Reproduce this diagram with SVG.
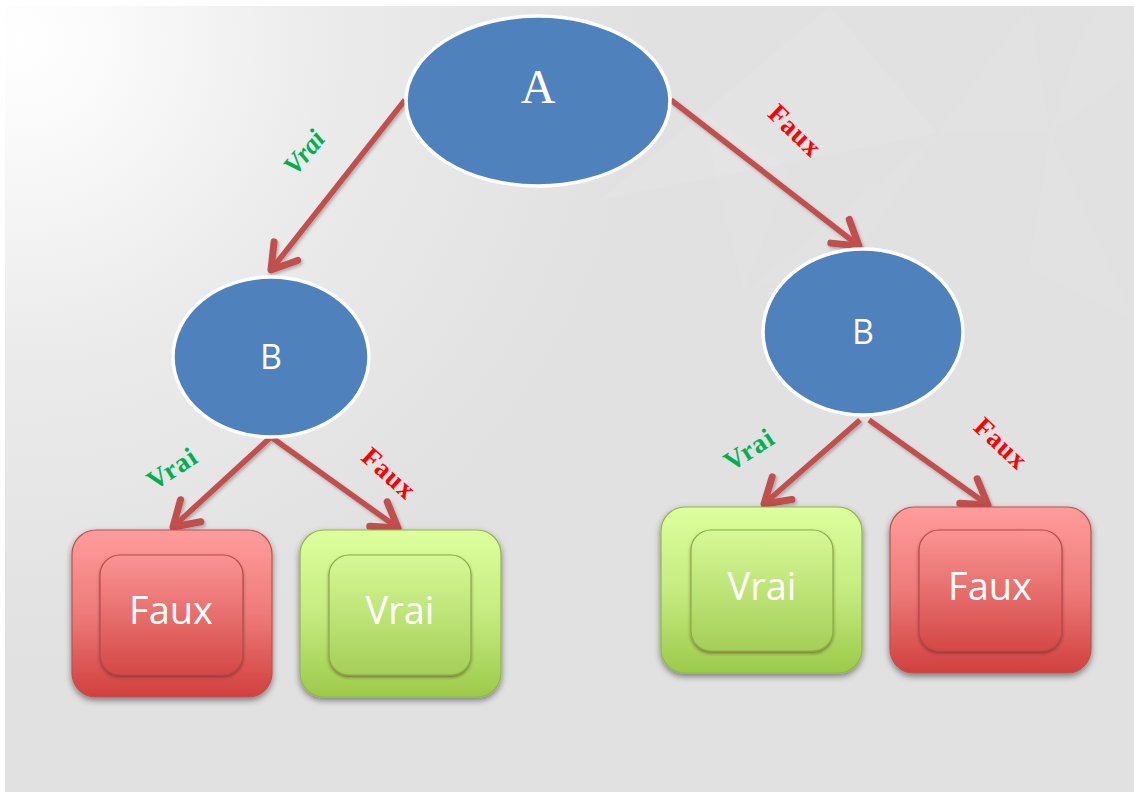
<svg xmlns="http://www.w3.org/2000/svg" width="1134" height="792" viewBox="0 0 1134 792">
  <defs>
    <radialGradient id="bgGlow" cx="20" cy="40" r="620" gradientUnits="userSpaceOnUse">
      <stop offset="0" stop-color="#FFFFFF"/>
      <stop offset="0.15" stop-color="#FAFAFA"/>
      <stop offset="0.5" stop-color="#EBEBEB"/>
      <stop offset="1" stop-color="#E1E1E1"/>
    </radialGradient>
    <linearGradient id="redOuter" x1="0" y1="0" x2="0" y2="1">
      <stop offset="0" stop-color="#FF9D9C"/>
      <stop offset="0.5" stop-color="#EE7B79"/>
      <stop offset="1" stop-color="#D0403E"/>
    </linearGradient>
    <linearGradient id="redInner" x1="0" y1="0" x2="0" y2="1">
      <stop offset="0" stop-color="#FA9594"/>
      <stop offset="1" stop-color="#D34846"/>
    </linearGradient>
    <linearGradient id="greenOuter" x1="0" y1="0" x2="0" y2="1">
      <stop offset="0" stop-color="#DEFF9E"/>
      <stop offset="0.5" stop-color="#C5EB80"/>
      <stop offset="1" stop-color="#9CCA4A"/>
    </linearGradient>
    <linearGradient id="greenInner" x1="0" y1="0" x2="0" y2="1">
      <stop offset="0" stop-color="#D8F897"/>
      <stop offset="1" stop-color="#A4CF58"/>
    </linearGradient>
    <filter id="boxShadow" x="-10%" y="-10%" width="120%" height="125%">
      <feDropShadow dx="0" dy="3" stdDeviation="3" flood-color="#000" flood-opacity="0.45"/>
    </filter>
    <filter id="innerShadow" x="-10%" y="-10%" width="120%" height="125%">
      <feDropShadow dx="0" dy="2" stdDeviation="1.5" flood-color="#5a1a1a" flood-opacity="0.5"/>
    </filter>
    <filter id="lineShadow" x="-20%" y="-20%" width="140%" height="140%">
      <feDropShadow dx="1.5" dy="2" stdDeviation="1.5" flood-color="#000" flood-opacity="0.25"/>
    </filter>
    <marker id="chevron" markerUnits="userSpaceOnUse" markerWidth="60" markerHeight="60" refX="0" refY="0" orient="auto" overflow="visible">
      <path d="M-24,-15 L0,0 L-24,15" fill="none" stroke="#C0504D" stroke-width="7" stroke-linecap="round" stroke-linejoin="round"/>
    </marker>
    <style>
      .node-ellipse { fill: #4F81BD; stroke: #FFFFFF; stroke-width: 3.5; }
      .edge { fill: none; stroke: #C0504D; stroke-width: 5.5; marker-end: url(#chevron); }
      .lbl { font-family: "Liberation Serif", serif; font-weight: bold; font-size: 27px; text-anchor: middle; }
      .yes { fill: #00B050; }
      .no { fill: #FF0000; }
      .box-text { font-family: "Open Sans", "Noto Sans", sans-serif; font-size: 38px; fill: #FFFFFF; text-anchor: middle; }
      .node-text { font-family: "Open Sans", "Noto Sans", sans-serif; font-size: 34px; fill: #FFFFFF; text-anchor: middle; }
      .facet { fill: #FFFFFF; }
    </style>
  </defs>

  <!-- page background -->
  <rect x="0" y="0" width="1134" height="792" fill="#FFFFFF"/>
  <rect x="5" y="6" width="1129" height="786" fill="url(#bgGlow)"/>

  <!-- faint faceted pattern, upper right -->
  <g id="facets">
    <polygon class="facet" opacity="0.07" points="600,200 830,6 937,133"/>
    <polygon class="facet" opacity="0.05" points="937,133 1050,133 1030,6"/>
    <polygon class="facet" opacity="0.06" points="1050,133 1078,43 1128,77"/>
    <polygon class="facet" opacity="0.04" points="744,293 937,133 860,250"/>
    <polygon class="facet" opacity="0.05" points="1050,133 1029,267 1134,320"/>
    <polygon class="facet" opacity="0.06" points="1078,43 1100,6 1134,6 1128,77"/>
    <polygon class="facet" opacity="0.03" points="937,133 1050,133 1029,267"/>
    <polygon class="facet" opacity="0.04" points="700,110 744,293 790,170"/>
  </g>

  <!-- connectors -->
  <g id="connectors" filter="url(#lineShadow)">
    <line class="edge" x1="405" y1="100" x2="271" y2="270"/>
    <line class="edge" x1="671" y1="100" x2="859" y2="246"/>
    <line class="edge" x1="271" y1="437" x2="173" y2="527"/>
    <line class="edge" x1="271" y1="437" x2="398" y2="528"/>
    <line class="edge" x1="860" y1="420" x2="764" y2="504"/>
    <line class="edge" x1="869" y1="420" x2="988" y2="505"/>
  </g>

  <!-- branch labels -->
  <g id="edge-labels">
    <text class="lbl yes" font-style="italic" transform="translate(311,158) rotate(-50)">Vrai</text>
    <text class="lbl no" letter-spacing="1" transform="translate(789,137) rotate(44)">Faux</text>
    <text class="lbl yes" letter-spacing="1" transform="translate(177,476) rotate(-33)">Vrai</text>
    <text class="lbl no" letter-spacing="1" transform="translate(383,480) rotate(42)">Faux</text>
    <text class="lbl yes" letter-spacing="1" transform="translate(754,457) rotate(-33)">Vrai</text>
    <text class="lbl no" letter-spacing="1" transform="translate(995,450) rotate(43)">Faux</text>
  </g>

  <!-- decision nodes -->
  <g id="node-a">
    <ellipse class="node-ellipse" cx="538" cy="101" rx="132" ry="85"/>
    <text x="538" y="103" font-family="Liberation Serif, serif" font-size="48" fill="#FFFFFF" text-anchor="middle">A</text>
  </g>
  <g id="node-b-left">
    <ellipse class="node-ellipse" cx="271" cy="357" rx="98" ry="80"/>
    <text class="node-text" x="271" y="369">B</text>
  </g>
  <g id="node-b-right">
    <ellipse class="node-ellipse" cx="863" cy="332" rx="100" ry="83"/>
    <text class="node-text" x="863" y="344">B</text>
  </g>

  <!-- outcome leaves -->
  <g id="leaf-faux-left">
    <rect x="72" y="530" width="200" height="167" rx="24" fill="url(#redOuter)" stroke="#C0504D" stroke-width="1.2" filter="url(#boxShadow)"/>
    <rect x="100" y="555" width="143" height="120" rx="20" fill="url(#redInner)" stroke="#B84846" stroke-width="1.2" filter="url(#innerShadow)"/>
    <text class="box-text" x="171" y="624">Faux</text>
  </g>
  <g id="leaf-vrai-left">
    <rect x="300" y="530" width="201" height="167" rx="24" fill="url(#greenOuter)" stroke="#8EB84A" stroke-width="1.2" filter="url(#boxShadow)"/>
    <rect x="329" y="555" width="142" height="120" rx="20" fill="url(#greenInner)" stroke="#86AE45" stroke-width="1.2" filter="url(#innerShadow)"/>
    <text class="box-text" x="400" y="624">Vrai</text>
  </g>
  <g id="leaf-vrai-right">
    <rect x="661" y="507" width="201" height="166" rx="24" fill="url(#greenOuter)" stroke="#8EB84A" stroke-width="1.2" filter="url(#boxShadow)"/>
    <rect x="691" y="530" width="142" height="121" rx="20" fill="url(#greenInner)" stroke="#86AE45" stroke-width="1.2" filter="url(#innerShadow)"/>
    <text class="box-text" x="762" y="600">Vrai</text>
  </g>
  <g id="leaf-faux-right">
    <rect x="890" y="507" width="201" height="166" rx="24" fill="url(#redOuter)" stroke="#C0504D" stroke-width="1.2" filter="url(#boxShadow)"/>
    <rect x="919" y="530" width="143" height="121" rx="20" fill="url(#redInner)" stroke="#B84846" stroke-width="1.2" filter="url(#innerShadow)"/>
    <text class="box-text" x="990" y="600">Faux</text>
  </g>
</svg>
